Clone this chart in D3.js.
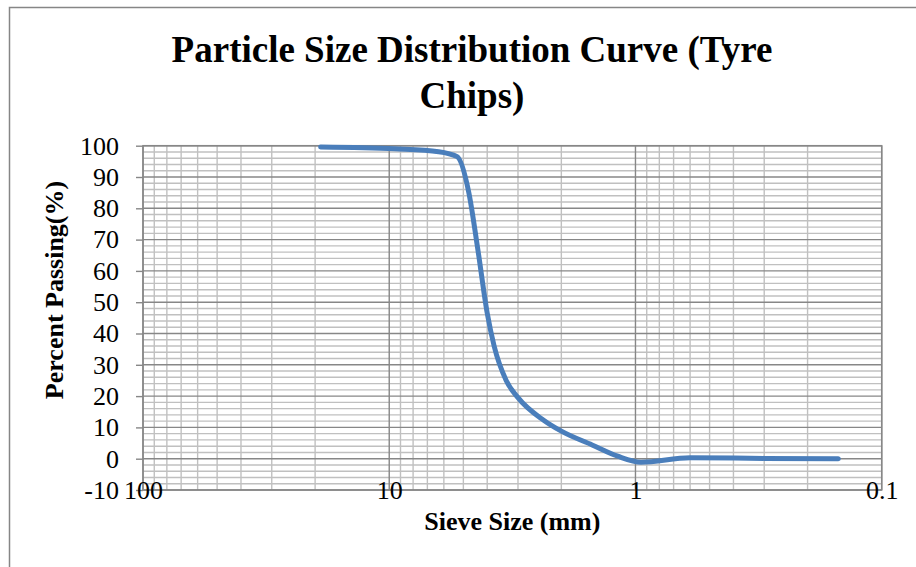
<!DOCTYPE html>
<html>
<head>
<meta charset="utf-8">
<script src="https://cdn.jsdelivr.net/npm/d3@7"></script>
<style>
  body { margin: 0; background: #fff; }
  svg { display: block; font-family: "Liberation Serif", "Times New Roman", serif; }
</style>
</head>
<body>
<div id="chart"></div>
<script>
/***** data *****/
var sieveSizes     = [19, 9.5, 6.3, 5.3, 4.75, 4.36, 4.0, 3.75, 3.35, 3.0, 2.36, 2.0, 1.5, 1.18, 0.95, 0.6, 0.3, 0.15];
var percentPassing = [99.6, 99.0, 98.1, 96.5, 85, 66.5, 46.5, 36, 25, 19.5, 12.3, 8.8, 4.4, 0.8, -1.1, 0.3, 0.1, 0];
var xTicks = [100, 10, 1, 0.1];
var yTicks = [-10, 0, 10, 20, 30, 40, 50, 60, 70, 80, 90, 100];

var data = sieveSizes.map(function(d, i) { return {size: d, pct: percentPassing[i]}; });

//chart parameters
var width = 916, height = 567;
var plot = {left: 143, right: 881.7, top: 145.7, bottom: 490};

var svg = d3.select("#chart").append("svg")
  .attr("width", width)
  .attr("height", height);

//outer chart frame (runs off the picture right and bottom)
svg.append("rect")
  .attr("x", 9.5).attr("y", 7.5)
  .attr("width", 1000).attr("height", 1000)
  .attr("fill", "none")
  .attr("stroke", "#868686")
  .attr("stroke-width", 1.5);

//scales
var x = d3.scaleLog()
  .domain([100, 0.1])
  .range([plot.left, plot.right]);
var y = d3.scaleLinear()
  .domain([-10, 100])
  .range([plot.bottom, plot.top]);

/***** gridlines *****/
var minorX = [];
[0.1, 1, 10].forEach(function(base) {
  for (var k = 2; k <= 9; k++) minorX.push(base * k);
});
var minorY = d3.range(-10, 101, 2).filter(function(d) { return d % 10 !== 0; });

var grid = svg.append("g").attr("class", "grid");

grid.selectAll("line.minor-y")
  .data(minorY).enter().append("line")
  .attr("x1", plot.left).attr("x2", plot.right)
  .attr("y1", function(d) { return y(d); })
  .attr("y2", function(d) { return y(d); })
  .attr("stroke", "#c0c0c0").attr("stroke-width", 1.4);

grid.selectAll("line.minor-x")
  .data(minorX).enter().append("line")
  .attr("x1", function(d) { return x(d); })
  .attr("x2", function(d) { return x(d); })
  .attr("y1", plot.top).attr("y2", plot.bottom)
  .attr("stroke", "#c0c0c0").attr("stroke-width", 1.4);

grid.selectAll("line.major-y")
  .data(yTicks).enter().append("line")
  .attr("x1", plot.left).attr("x2", plot.right)
  .attr("y1", function(d) { return y(d); })
  .attr("y2", function(d) { return y(d); })
  .attr("stroke", "#878787").attr("stroke-width", 1.4);

grid.selectAll("line.major-x")
  .data(xTicks).enter().append("line")
  .attr("x1", function(d) { return x(d); })
  .attr("x2", function(d) { return x(d); })
  .attr("y1", plot.top).attr("y2", plot.bottom)
  .attr("stroke", "#878787").attr("stroke-width", 1.4);

//plot area border
svg.append("rect")
  .attr("x", plot.left).attr("y", plot.top)
  .attr("width", plot.right - plot.left)
  .attr("height", plot.bottom - plot.top)
  .attr("fill", "none")
  .attr("stroke", "#878787")
  .attr("stroke-width", 1.5);

/***** axes *****/
var yAxis = d3.axisLeft(y)
  .tickValues(yTicks)
  .tickSizeInner(7)
  .tickSizeOuter(0)
  .tickPadding(17)
  .tickFormat(function(d) { return d; });

var gy = svg.append("g")
  .attr("transform", "translate(" + plot.left + ",0)")
  .call(yAxis);
gy.select(".domain").remove();
gy.selectAll(".tick line").attr("stroke", "#878787").attr("stroke-width", 1.4);
gy.selectAll("text")
  .attr("font-family", "Liberation Serif, serif")
  .attr("font-size", 26)
  .attr("fill", "#000");

var xAxis = d3.axisBottom(x)
  .tickValues(xTicks)
  .tickSize(0)
  .tickPadding(0)
  .tickFormat(function(d) { return d; });

var gx = svg.append("g")
  .attr("transform", "translate(0," + plot.bottom + ")")
  .call(xAxis);
gx.select(".domain").remove();
gx.selectAll("text")
  .attr("y", 0)
  .attr("dy", "0.33em")
  .attr("font-family", "Liberation Serif, serif")
  .attr("font-size", 26)
  .attr("fill", "#000");

/***** curve *****/
var line = d3.line()
  .x(function(d) { return x(d.size); })
  .y(function(d) { return y(d.pct); })
  .curve(d3.curveMonotoneX);

svg.append("path")
  .datum(data)
  .attr("d", line)
  .attr("fill", "none")
  .attr("stroke", "#4a7ebb")
  .attr("stroke-width", 5)
  .attr("stroke-linecap", "round")
  .attr("stroke-linejoin", "round");

/***** titles *****/
var title = svg.append("text")
  .attr("text-anchor", "middle")
  .attr("font-weight", "bold")
  .attr("font-size", 37)
  .attr("fill", "#000");
title.append("tspan").attr("x", 472).attr("y", 62).text("Particle Size Distribution Curve (Tyre");
title.append("tspan").attr("x", 472).attr("y", 108).text("Chips)");

svg.append("text")
  .attr("x", (plot.left + plot.right) / 2)
  .attr("y", 530)
  .attr("text-anchor", "middle")
  .attr("font-weight", "bold")
  .attr("font-size", 26)
  .text("Sieve Size (mm)");

svg.append("text")
  .attr("transform", "translate(63,290) rotate(-90)")
  .attr("text-anchor", "middle")
  .attr("font-weight", "bold")
  .attr("font-size", 26)
  .text("Percent Passing(%)");
</script>
</body>
</html>
